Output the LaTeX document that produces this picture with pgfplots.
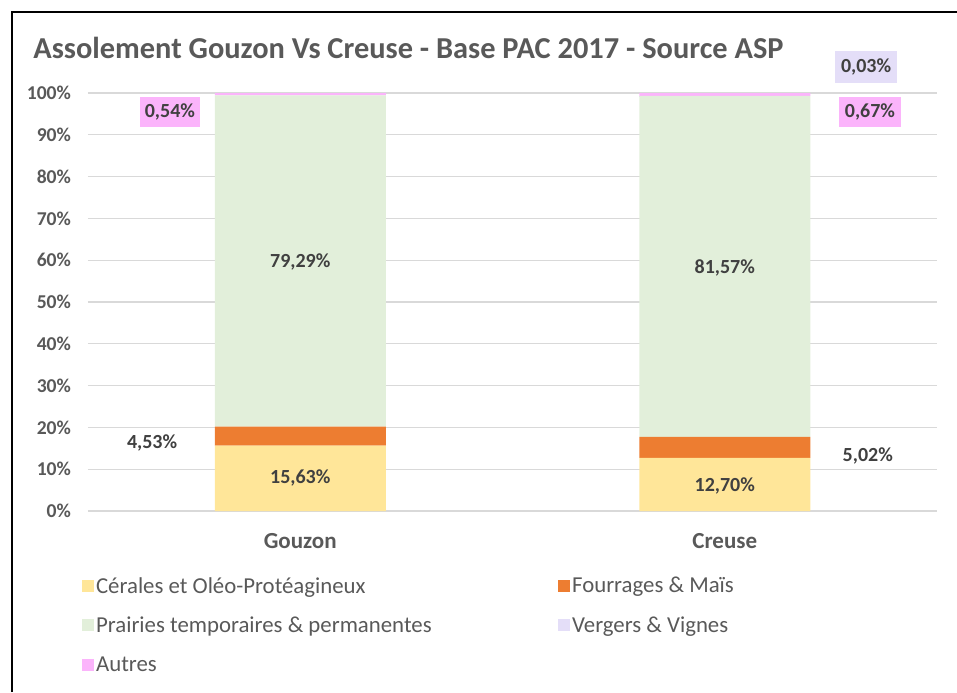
\documentclass[border=0pt]{standalone}
\usepackage{pgfplots}
\pgfplotsset{compat=1.18}
\usepackage{fontspec}
\setmainfont{Carlito}
\definecolor{cereal}{HTML}{FFE699}
\definecolor{fourrage}{HTML}{ED7D31}
\definecolor{prairie}{HTML}{E2EFDA}
\definecolor{verger}{HTML}{E4DEF8}
\definecolor{autres}{HTML}{FBB4FB}
\definecolor{txt}{HTML}{595959}
\definecolor{lbl}{HTML}{404040}
\definecolor{gridgray}{HTML}{D9D9D9}

\begin{document}
\begin{tikzpicture}
\useasboundingbox (0,0) rectangle (478.5pt,346pt);
\draw[line width=1pt] (6pt,0) -- (6pt,340pt) -- (478.5pt,340pt);
\node[anchor=west, font=\fontsize{15.2}{17}\selectfont\bfseries, text=txt, inner sep=0pt]
  at (16.5pt,322pt) {Assolement Gouzon Vs Creuse - Base PAC 2017 - Source ASP};
\begin{axis}[
  at={(44pt,90.5pt)}, anchor=south west,
  scale only axis, width=424.5pt, height=209pt,
  ybar stacked, bar width=85.5pt,
  xmin=-0.5, xmax=1.5, ymin=0, ymax=100,
  xtick={0,1}, xticklabels={Gouzon,Creuse},
  ytick={0,10,...,100},
  yticklabels={0\%,10\%,20\%,30\%,40\%,50\%,60\%,70\%,80\%,90\%,100\%},
  ymajorgrids, grid style={color=gridgray, line width=0.6pt},
  axis line style={draw=none}, major tick length=0pt,
  tick style={draw=none},
  yticklabel style={font=\fontsize{9.8}{11}\selectfont\bfseries, text=txt, xshift=-5pt},
  xticklabel style={font=\fontsize{11.5}{13}\selectfont\bfseries, text=txt, yshift=-7.5pt},
  clip=false,
  legend columns=2,
  legend cell align=left,
  legend style={at={(-0.0145,-0.143)}, anchor=north west, draw=none, fill=none,
    font=\fontsize{11.4}{13}\selectfont, text=txt, row sep=8.5pt,
    nodes={inner sep=1pt}},
  legend image code/.code={\fill[#1] (0pt,-2.5pt) rectangle (6pt,3.5pt);},
]
% Cérales et Oléo-Protéagineux
\addplot[fill=cereal, draw=none] coordinates {(0,15.63) (1,12.70)};
\addlegendentry{\makebox[230pt][l]{Cérales et Oléo-Protéagineux}}
% Fourrages & Maïs
\addplot[fill=fourrage, draw=none] coordinates {(0,4.53) (1,5.02)};
\addlegendentry{Fourrages \& Maïs}
% Prairies
\addplot[fill=prairie, draw=none] coordinates {(0,79.29) (1,81.57)};
\addlegendentry{\makebox[230pt][l]{Prairies temporaires \& permanentes}}
% Vergers & Vignes
\addplot[fill=verger, draw=none] coordinates {(0,0) (1,0.03)};
\addlegendentry{Vergers \& Vignes}
% Autres
\addplot[fill=autres, draw=none] coordinates {(0,0.54) (1,0.67)};
\addlegendentry{Autres}

% label anchors, drawn after the axis so they sit above the bars
\coordinate (g1) at (axis cs:0,7.9);
\coordinate (g2) at (axis cs:0,59.6);
\coordinate (g3) at (axis cs:-0.349,16.3);
\coordinate (g4) at (axis cs:-0.307,95.5);
\coordinate (c1) at (axis cs:1,6.0);
\coordinate (c2) at (axis cs:1,58.1);
\coordinate (c3) at (axis cs:1.337,13.2);
\coordinate (c4) at (axis cs:1.342,95.5);
\coordinate (c5) at (axis cs:1.333,106.2);
\end{axis}
\tikzset{lab/.style={font=\fontsize{10}{12}\selectfont\bfseries, text=lbl}}
\node[lab] at (g1) {15,63\%};
\node[lab] at (g2) {79,29\%};
\node[lab] at (g3) {4,53\%};
\node[lab, fill=autres, minimum width=30pt, minimum height=15pt, inner sep=0pt] at (g4) {0,54\%};
\node[lab] at (c1) {12,70\%};
\node[lab] at (c2) {81,57\%};
\node[lab] at (c3) {5,02\%};
\node[lab, fill=autres, minimum width=31pt, minimum height=15pt, inner sep=0pt] at (c4) {0,67\%};
\node[lab, fill=verger, minimum width=31pt, minimum height=16pt, inner sep=0pt] at (c5) {0,03\%};
\end{tikzpicture}
\end{document}
